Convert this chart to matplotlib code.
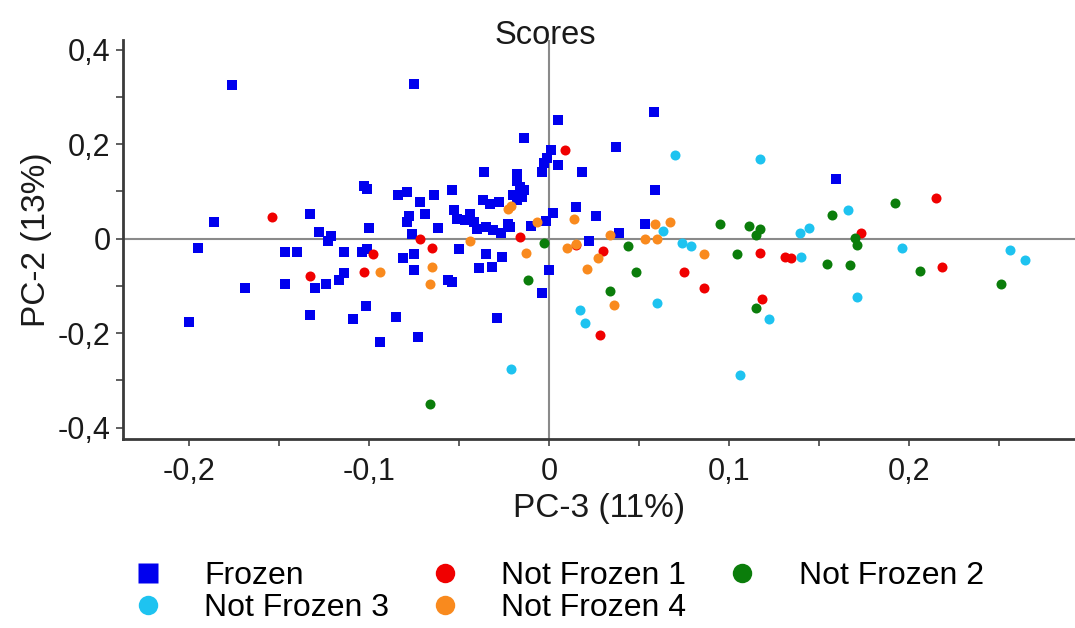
import numpy as np
import matplotlib
matplotlib.use("Agg")
import matplotlib.pyplot as plt
from matplotlib.lines import Line2D
from matplotlib.ticker import FuncFormatter, MultipleLocator

plt.rcParams['font.family'] = ['Liberation Sans', 'DejaVu Sans']

# PCA scores (PC-3, PC-2) per sample group
frozen_x = [-0.176, -0.186, -0.133, -0.128, -0.123, -0.121, -0.195, -0.147, -0.140, -0.114,
            -0.114, -0.117, -0.124, -0.130, -0.147, -0.169, -0.133, -0.200, -0.109,
            -0.075, 0.005, -0.014, 0.001, -0.001, -0.003, 0.005, -0.004, 0.018, -0.036,
            -0.103, -0.101, -0.084, -0.079, -0.072, -0.064, -0.054,
            -0.018, -0.018, -0.016, -0.014, -0.015, -0.018, -0.020,
            -0.037, -0.033, -0.028,
            -0.053, -0.051, -0.047, -0.044, -0.042, -0.040, -0.035, -0.031, -0.027, -0.023, -0.022,
            -0.078, -0.079, -0.069, -0.062, -0.100, -0.076,
            -0.010, -0.002, 0.002, 0.015,
            -0.104, -0.101, -0.050, -0.035, -0.026, -0.081, -0.075,
            -0.075, -0.039, -0.032, -0.056, -0.054, 0.000, -0.004, -0.102, -0.085, -0.029, -0.094, -0.073,
            0.058, 0.037, 0.059, 0.026, 0.053, 0.039, 0.022, 0.159]
frozen_y = [0.326, 0.035, 0.052, 0.013, -0.006, 0.005, -0.019, -0.028, -0.028, -0.028,
            -0.072, -0.088, -0.097, -0.104, -0.095, -0.104, -0.162, -0.177, -0.171,
            0.328, 0.252, 0.214, 0.187, 0.170, 0.160, 0.156, 0.140, 0.140, 0.140,
            0.112, 0.106, 0.093, 0.099, 0.077, 0.093, 0.103,
            0.137, 0.123, 0.109, 0.102, 0.088, 0.081, 0.092,
            0.081, 0.074, 0.077,
            0.061, 0.042, 0.039, 0.053, 0.035, 0.021, 0.025, 0.018, 0.012, 0.032, 0.025,
            0.048, 0.035, 0.052, 0.023, 0.023, 0.009,
            0.027, 0.037, 0.054, 0.067,
            -0.028, -0.021, -0.022, -0.033, -0.039, -0.042, -0.033,
            -0.066, -0.063, -0.060, -0.088, -0.092, -0.066, -0.116, -0.142, -0.165, -0.168, -0.219, -0.209,
            0.268, 0.194, 0.102, 0.048, 0.032, 0.012, -0.004, 0.127]

nf1_x = [-0.154, -0.133, 0.009, -0.016, -0.072, -0.065, -0.098, -0.103, 0.015, 0.030,
         0.117, 0.131, 0.134, 0.028, 0.075, 0.086, 0.118, 0.215, 0.173, 0.218]
nf1_y = [0.046, -0.079, 0.188, 0.003, -0.001, -0.019, -0.032, -0.071, -0.014, -0.027,
         -0.030, -0.039, -0.040, -0.203, -0.071, -0.104, -0.127, 0.087, 0.011, -0.060]

nf2_x = [-0.003, -0.012, -0.066, 0.044, 0.095, 0.104, 0.111, 0.117, 0.115, 0.048,
         0.034, 0.115, 0.192, 0.157, 0.170, 0.171, 0.154, 0.167, 0.206, 0.251]
nf2_y = [-0.009, -0.088, -0.350, -0.016, 0.030, -0.032, 0.026, 0.020, 0.008, -0.071,
         -0.111, -0.146, 0.076, 0.049, 0.001, -0.013, -0.053, -0.056, -0.069, -0.097]

nf3_x = [-0.021, 0.017, 0.020, 0.070, 0.117, 0.063, 0.074, 0.079, 0.139, 0.144,
         0.140, 0.060, 0.122, 0.106, 0.166, 0.196, 0.256, 0.264, 0.171]
nf3_y = [-0.276, -0.152, -0.178, 0.178, 0.169, 0.016, -0.009, -0.016, 0.012, 0.023,
         -0.039, -0.136, -0.171, -0.289, 0.060, -0.019, -0.025, -0.046, -0.123]

nf4_x = [-0.023, -0.021, -0.007, 0.014, -0.044, -0.013, 0.010, 0.015, -0.065, -0.066,
         -0.094, 0.059, 0.067, 0.034, 0.053, 0.060, 0.027, 0.021, 0.086, 0.036]
nf4_y = [0.063, 0.069, 0.035, 0.041, -0.004, -0.030, -0.020, -0.011, -0.060, -0.097,
         -0.071, 0.032, 0.035, 0.007, 0.000, 0.000, -0.042, -0.064, -0.033, -0.140]

labels = ['Frozen', 'Not Frozen 1', 'Not Frozen 2', 'Not Frozen 3', 'Not Frozen 4']
colors = ['#0000EE', '#F00000', '#0B7D0B', '#1EC3F0', '#F98A1E']

fig = plt.figure(figsize=(10.75, 6.28), dpi=100)
ax = fig.add_axes([0.114, 0.301, 0.886, 0.635])

ax.axhline(0, color='#8a8a8a', lw=1.5, zorder=1)
ax.axvline(0, color='#8a8a8a', lw=1.5, zorder=1)

ax.scatter(frozen_x, frozen_y, marker='s', s=55, color=colors[0], lw=0, zorder=2)
for (xs, ys), c in zip([(nf1_x, nf1_y), (nf2_x, nf2_y), (nf3_x, nf3_y), (nf4_x, nf4_y)], colors[1:]):
    ax.scatter(xs, ys, marker='o', s=52, color=c, lw=0, zorder=3)

ax.set_xlim(-0.237, 0.292)
ax.set_ylim(-0.424, 0.42)
ax.xaxis.set_major_locator(MultipleLocator(0.1))
ax.xaxis.set_minor_locator(MultipleLocator(0.05))
ax.yaxis.set_major_locator(MultipleLocator(0.2))
ax.yaxis.set_minor_locator(MultipleLocator(0.1))

def comma(v, pos):
    if abs(v) < 1e-9:
        return '0'
    return ('%.1f' % v).replace('.', ',')

ax.xaxis.set_major_formatter(FuncFormatter(comma))
ax.yaxis.set_major_formatter(FuncFormatter(comma))
ax.tick_params(axis='both', which='both', direction='out', length=5, width=1.2,
               color='#444444', labelsize=22, labelcolor='#1a1a1a')
ax.tick_params(axis='x', pad=8)

for side in ['top', 'right']:
    ax.spines[side].set_visible(False)
for side in ['left', 'bottom']:
    ax.spines[side].set_linewidth(2)
    ax.spines[side].set_color('#3a3a3a')

# title sits over the zero line, slightly dipping into the plot area
ax.set_title('Scores', fontsize=23.5, color='#1a1a1a', x=0.444, y=0.99, pad=0)
ax.set_xlabel('PC-3 (11%)', fontsize=24, color='#1a1a1a', labelpad=4)
ax.set_ylabel('PC-2 (13%)', fontsize=24, color='#1a1a1a', labelpad=4)

handles = [Line2D([], [], ls='', marker='s', ms=15, mec='none', color=colors[0])]
handles += [Line2D([], [], ls='', marker='o', ms=14, mec='none', color=c) for c in colors[1:]]
order = [0, 3, 1, 4, 2]
fig.legend([handles[i] for i in order], [labels[i] for i in order],
           loc='upper left', bbox_to_anchor=(0.111, 0.107), ncol=3, frameon=False,
           fontsize=23, handlelength=1.8, handletextpad=0.86, columnspacing=0.85,
           labelspacing=0.08, borderpad=0, borderaxespad=0)

fig.savefig('out.png', dpi=100)
